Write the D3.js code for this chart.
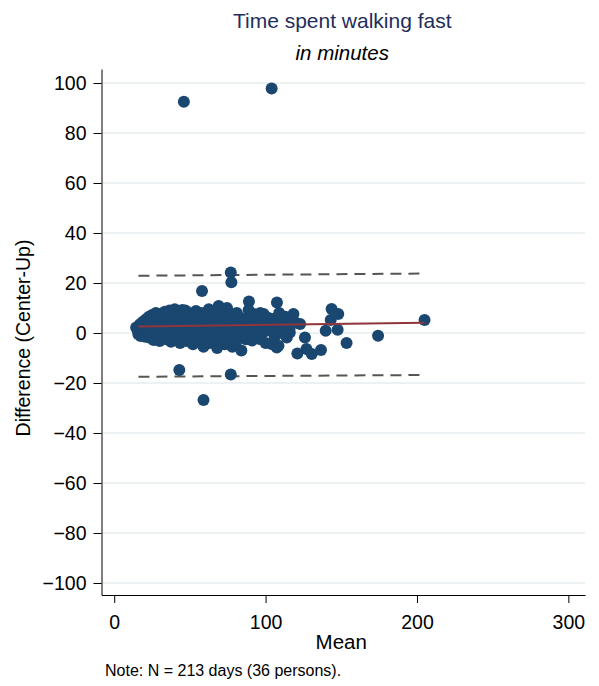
<!DOCTYPE html>
<html>
<head>
<meta charset="utf-8">
<script src="https://cdn.jsdelivr.net/npm/d3@7"></script>
<style>
  body { margin: 0; background: #fff; }
  text { font-family: "Liberation Sans", Arial, sans-serif; }
</style>
</head>
<body>
<div id="chart"></div>
<script>
// Bland-Altman data: mean of the two measures and their difference (Center-Up)
const means = [
  46, 104, 77, 77.4, 58, 43, 77, 59, 89, 88.8, 107.5,
  14.5, 15.5, 16, 17, 17.5, 18, 19, 19.5, 20, 20.5, 21, 21.5, 22, 22.5, 23, 23.5, 24, 24, 24.5, 25,
  25.5, 26, 26.5, 27, 27.5, 28, 28.5, 29, 29.5, 30, 30.5, 31, 31.5, 32, 32.5, 33, 33.5, 34, 34.5, 35,
  35.5, 36, 36.5, 37, 37.5, 38, 38.5, 39, 39.5, 40, 29, 35, 40,
  40.5, 41, 41.5, 42, 42.5, 43, 43.5, 44, 44.5, 45, 45.5, 46, 46.5, 47, 47.5, 48, 48.5, 49, 49.5, 50,
  50.5, 51, 51.5, 52, 52.5, 53, 53.5, 54, 54.5, 55, 42, 44, 46, 48, 50, 52, 47, 54,
  55.5, 56, 56.5, 57, 57.5, 58, 58.5, 59, 59.5, 60, 60.5, 61, 61.5, 62, 62.5, 63, 63.5, 64, 64.5, 65,
  65.5, 66, 66.5, 67, 67.5, 68, 68.5, 69, 69.5, 70, 58, 62, 64, 66, 60, 68,
  70.5, 71, 71.5, 72, 72.5, 73, 73.5, 74, 74.5, 75, 75.5, 76, 76.5, 77, 77.5, 78, 78.5, 79, 80, 80.5,
  81, 82, 82.5, 83, 84, 84.5, 86, 87,
  89.5, 90, 91, 92, 92.5, 93, 94, 95, 96, 96.5, 97.5, 98.7, 99, 100, 101, 102, 103, 104, 105, 106,
  107, 107.4, 108.5, 109, 110, 111, 112, 113, 114, 116, 116, 118.4,
  122.8, 121, 126, 127, 130.5, 136.6, 139.7, 143, 143.6, 148, 147.6, 153.5, 174.3, 205, 119
]
const diffs = [
  92.5, 97.8, 24.2, 20.3, 16.8, -14.8, -16.6, -26.8, 12.6, 9.2, 12.2,
  2.2, 1.0, -0.5, 3.5, -1.2, 1.8, 4.5, 0.2, 2.8, -1.5, 5.5, 1.2, 3.0, -0.8, 6.5, 2.0, 4.2, -2.0, 0.8, 7.2,
  3.5, -2.8, 5.8, 1.5, 8.0, -1.0, 3.8, 6.2, 0.5, -3.2, 4.5, 2.2, 7.8, -1.8, 5.0, 1.0, 8.5, 3.2, -2.5, 6.5,
  0.2, 4.0, 9.0, 2.5, -3.5, 5.5, 1.5, 7.0, -1.2, 3.0, -2.2, 1.8, 9.5,
  6.0, 0.8, -2.8, 4.2, 8.6, 2.0, -4.0, 5.8, 1.0, 9.2, 3.5, -1.5, 6.8, 2.2, -3.2, 4.8, 8.2, 0.5, 3.0, -2.0,
  6.2, 1.8, 4.5, -4.5, 7.5, 2.6, 0.0, 5.2, -1.8, 3.8, 1.5, 3.2, 4.0, -0.8, 2.5, 5.0, 9.0, 8.8,
  1.0, 6.5, -3.5, 3.2, 8.0, -0.5, 4.8, -5.5, 2.0, 7.2, 0.5, -2.5, 5.5, 3.0, 9.5, -4.0, 1.8, 6.0, -1.0, 4.0,
  0.2, 8.5, -2.8, 2.5, 5.8, -6.0, 3.5, 10.8, 0.8, -3.0, 2.8, -1.8, 3.8, 1.2, 4.5, 7.0,
  6.2, -1.1, 3.0, 8.5, 0.5, -4.5, 4.8, 2.0, 10.0, -2.0, 6.0, 1.0, -2.4, 3.8, 7.5, -5.5, 0.0, 5.0, 2.2, -3.5,
  8.0, 3.5, -1.0, 6.2, -7.0, 1.5, 4.5, -2.5,
  5.8, 1.0, -3.0, 7.6, 3.0, -0.8, 5.0, 2.0, -2.4, 8.0, 4.0, 7.6, 0.5, -4.0, 3.5, 6.0, 1.0, -4.4, 5.6, -1.5,
  2.5, -5.8, -5.1, 8.0, 3.0, 0.0, 5.6, 6.5, -1.8, 0.2, 2.2, 7.6,
  3.6, -8.2, -1.8, -6.4, -8.4, -6.8, 0.9, 5.2, 9.6, 7.6, 1.3, -4.0, -1.1, 5.2, 4.5
]

// fitted mean difference and limits of agreement (ends of each line)
const lineX = [16, 205]
const meanDiffLine = [2.6, 4.1]
const upperLimit = [22.9, 23.8]
const lowerLimit = [-17.5, -16.8]

const xTicks = [0, 100, 200, 300]
const yTicks = [-100, -80, -60, -40, -20, 0, 20, 40, 60, 80, 100]

const width = 599
const height = 686
const navy = '#1a476f'

const svg = d3.select('#chart').append('svg')
  .attr('width', width)
  .attr('height', height)

const x = d3.scaleLinear().domain([-8.4, 311]).range([101.5, 585])
const y = d3.scaleLinear().domain([-104.8, 105.6]).range([595, 69])

// Gridlines
svg.append('g')
  .selectAll('line')
  .data(yTicks)
  .join('line')
  .attr('x1', x.range()[0])
  .attr('x2', x.range()[1])
  .attr('y1', d => y(d))
  .attr('y2', d => y(d))
  .attr('stroke', '#e6eef1')
  .attr('stroke-width', 1.5)

// Axes
const yAxis = svg.append('g')
  .attr('transform', `translate(${x.range()[0]},0)`)
  .call(d3.axisLeft(y).tickValues(yTicks).tickSize(8).tickSizeOuter(0).tickPadding(7))
const xAxis = svg.append('g')
  .attr('transform', `translate(0,${y.range()[0]})`)
  .call(d3.axisBottom(x).tickValues(xTicks).tickSize(8).tickSizeOuter(0).tickPadding(12))

;[xAxis, yAxis].forEach(a => {
  a.selectAll('text').style('font-size', '19.5px').attr('fill', '#000')
    .style('font-family', '"Liberation Sans", Arial, sans-serif')
  a.selectAll('line').attr('stroke', '#000')
  a.select('.domain').attr('stroke', '#000')
})

// Limits of agreement (dashed)
const lineGen = d3.line().x(d => x(d[0])).y(d => y(d[1]))
;[upperLimit, lowerLimit].forEach(lim => {
  svg.append('path')
    .datum(lineX.map((v, i) => [v, lim[i]]))
    .attr('d', lineGen)
    .attr('fill', 'none')
    .attr('stroke', '#555')
    .attr('stroke-width', 2)
    .attr('stroke-dasharray', '11,7')
})

// Points
svg.append('g')
  .selectAll('circle')
  .data(means.map((m, i) => [m, diffs[i]]))
  .join('circle')
  .attr('cx', d => x(d[0]))
  .attr('cy', d => y(d[1]))
  .attr('r', 6)
  .attr('fill', navy)

// Mean difference line
svg.append('path')
  .datum(lineX.map((v, i) => [v, meanDiffLine[i]]))
  .attr('d', lineGen)
  .attr('fill', 'none')
  .attr('stroke', '#90353b')
  .attr('stroke-width', 2)

// Titles and labels
const cx = (x.range()[0] + x.range()[1]) / 2
svg.append('text')
  .attr('x', cx - 1).attr('y', 28)
  .attr('text-anchor', 'middle')
  .style('font-size', '21px')
  .attr('fill', '#1e2e5c')
  .text('Time spent walking fast')
svg.append('text')
  .attr('x', cx - 1).attr('y', 60)
  .attr('text-anchor', 'middle')
  .style('font-size', '20.5px')
  .style('font-style', 'italic')
  .text('in minutes')
svg.append('text')
  .attr('x', cx - 2).attr('y', 649)
  .attr('text-anchor', 'middle')
  .style('font-size', '20.5px')
  .text('Mean')
svg.append('text')
  .attr('transform', `translate(30,${y(-2)}) rotate(-90)`)
  .attr('text-anchor', 'middle')
  .style('font-size', '19.5px')
  .text('Difference (Center-Up)')
svg.append('text')
  .attr('x', 105).attr('y', 676)
  .style('font-size', '16px')
  .text('Note: N = 213 days (36 persons).')
</script>
</body>
</html>
